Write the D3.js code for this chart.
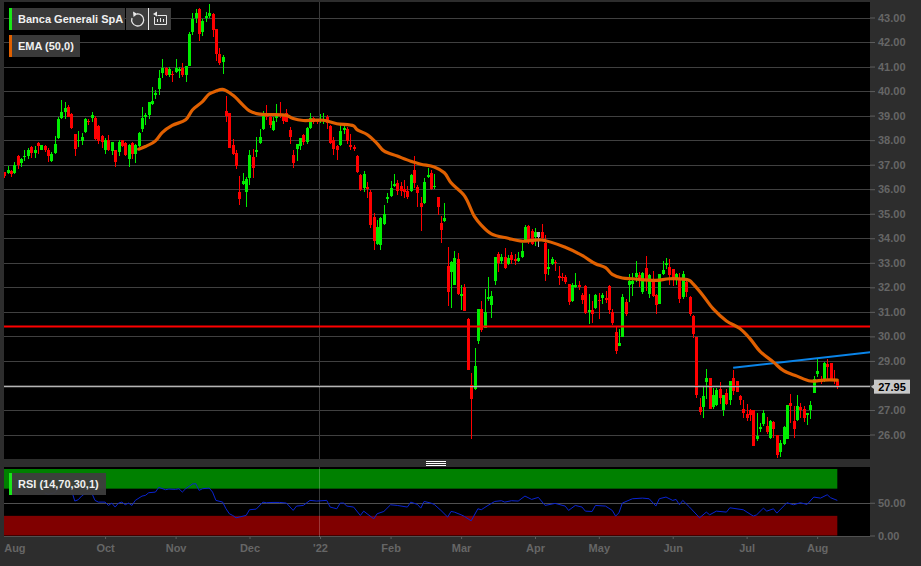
<!DOCTYPE html>
<html>
<head>
<meta charset="utf-8">
<script src="https://cdn.jsdelivr.net/npm/d3@7"></script>
<style>
  html, body { margin: 0; padding: 0; background: #2d2d2d; overflow: hidden; }
  svg { display: block; font-family: "Liberation Sans", Arial, sans-serif; }
</style>
</head>
<body>
<svg id="chart" width="921" height="566"></svg>
<script>
// Daily candles
const opens = [
  36.70,36.66,36.73,36.66,37.34,37.07,37.31,37.35,37.73,37.47,
  37.88,37.61,37.77,37.58,37.15,37.49,38.10,38.91,39.14,39.37,
  39.05,38.26,37.95,37.96,38.34,38.80,38.91,38.91,38.59,38.17,
  37.58,37.99,37.56,37.61,37.51,37.99,37.89,37.24,37.88,37.42,
  37.78,38.45,38.94,39.03,39.48,39.86,40.07,40.75,40.93,40.66,
  40.70,40.79,40.83,40.93,40.66,41.02,42.39,42.96,43.34,42.42,
  43.00,43.07,43.16,42.55,41.50,41.20,39.17,39.12,37.81,37.47,
  35.89,36.23,35.89,36.46,37.31,37.53,37.90,38.45,39.00,38.96,
  38.43,38.92,39.08,39.01,39.11,38.43,37.41,37.62,37.78,38.23,
  37.94,38.51,38.92,38.84,38.81,38.84,38.95,38.59,38.02,37.78,
  37.82,38.43,38.47,37.79,37.74,37.37,36.57,36.03,36.07,35.87,
  34.88,33.76,33.73,34.57,35.59,35.73,36.13,36.26,36.14,35.99,
  35.94,35.94,36.80,36.07,35.42,35.42,36.51,36.67,36.07,35.69,
  34.64,34.70,32.85,32.62,32.10,33.15,31.63,32.01,30.71,28.00,
  27.86,29.83,31.11,30.34,31.52,31.29,32.24,33.35,33.09,33.23,
  32.96,33.30,33.15,33.09,33.23,33.93,34.51,34.31,34.07,34.27,
  34.27,33.82,32.75,32.94,33.05,32.48,32.44,32.41,32.14,31.44,
  32.01,32.08,31.70,32.04,31.01,31.06,31.17,31.50,31.56,31.56,
  32.07,31.01,30.18,29.61,29.99,31.40,32.11,32.15,32.44,32.49,
  31.81,32.80,31.74,32.35,31.67,31.31,32.53,32.89,32.82,32.76,
  32.35,32.39,31.60,32.21,31.60,30.83,29.98,27.11,27.11,28.13,
  28.31,27.12,27.22,27.86,27.01,27.70,27.39,28.30,28.17,27.55,
  27.05,26.85,27.01,27.01,25.82,26.22,26.44,26.34,25.87,26.51,
  25.96,25.29,25.60,25.83,27.29,26.57,26.60,27.12,27.02,26.79,
  27.01,27.69,28.47,28.23,28.20,28.88,28.91,28.23,28.17
];
const closes = [
  36.52,36.80,36.63,37.00,36.97,37.24,37.34,37.58,37.47,37.58,
  37.78,37.81,37.58,37.35,37.45,37.85,38.87,39.14,39.32,38.96,
  38.50,37.62,38.00,38.12,38.87,38.72,39.03,38.06,37.95,37.92,
  38.02,37.58,37.91,37.11,37.92,37.78,37.41,37.81,37.42,37.81,
  38.29,38.89,39.03,39.57,39.60,39.94,40.52,40.93,40.66,40.90,
  40.64,40.93,40.89,40.66,41.02,42.31,42.93,43.20,42.31,42.85,
  43.05,43.20,42.49,41.50,41.13,41.37,38.98,37.70,37.43,36.93,
  35.60,36.35,36.43,37.40,36.86,37.58,38.12,39.03,38.96,38.62,
  38.78,38.97,38.97,38.78,38.76,38.11,37.05,37.86,38.07,37.93,
  38.51,38.92,38.72,38.74,38.85,38.88,38.70,37.89,37.62,37.59,
  38.38,38.51,37.96,37.73,37.64,36.71,35.96,36.62,36.01,34.54,
  33.89,34.47,34.84,34.98,35.67,36.06,36.20,35.94,35.92,35.90,
  35.67,36.56,36.24,35.86,35.26,36.30,36.57,35.99,36.13,35.26,
  34.34,34.81,31.80,33.05,33.19,31.74,31.74,31.03,28.62,27.43,
  28.78,31.11,30.27,30.98,31.60,31.63,33.23,33.01,33.23,32.78,
  33.19,33.12,33.08,33.19,33.50,34.45,33.86,33.76,34.27,34.04,
  34.00,32.54,32.82,33.15,32.98,32.37,32.40,32.21,31.40,32.11,
  32.08,32.01,31.50,30.97,31.06,30.90,31.70,31.44,31.67,31.50,
  31.06,30.55,29.40,29.73,31.60,30.90,32.25,32.25,32.58,32.35,
  32.59,32.28,32.51,31.63,31.27,32.55,32.69,33.00,32.49,32.35,
  32.53,31.54,32.53,31.81,30.90,30.11,27.63,26.90,27.57,28.30,
  27.05,27.62,27.82,27.50,27.59,27.25,28.17,27.79,27.73,27.41,
  26.89,26.67,26.79,25.53,25.92,26.30,26.87,26.10,26.53,26.24,
  25.15,25.65,26.30,27.20,27.16,26.24,27.16,27.01,26.67,26.87,
  27.21,28.27,28.58,28.13,28.91,28.77,28.23,28.17,27.96
];
const highs = [
  36.70,36.93,36.80,37.12,37.38,37.28,37.58,37.69,37.75,37.75,
  37.92,37.81,37.81,37.69,37.50,38.15,38.94,39.64,39.55,39.44,
  39.09,38.26,38.37,38.29,38.91,38.87,39.14,39.00,38.60,38.19,
  38.08,38.22,37.92,37.61,37.99,37.99,37.92,37.85,37.92,37.85,
  38.33,39.37,39.10,39.57,40.15,40.05,40.86,41.29,40.99,40.99,
  40.83,41.32,40.99,41.16,41.02,42.42,43.19,43.33,43.37,42.92,
  43.23,43.54,43.19,42.55,41.74,41.47,39.78,39.12,38.04,37.61,
  36.52,36.66,36.48,37.61,37.64,38.12,38.45,39.17,39.44,39.10,
  38.95,39.49,39.56,39.08,39.28,38.54,37.59,37.86,38.07,38.27,
  38.54,39.11,38.95,38.88,39.05,39.11,39.01,38.61,38.11,37.79,
  38.61,38.67,38.54,38.27,37.79,37.39,36.62,36.74,36.30,35.96,
  35.02,34.75,34.88,35.36,35.86,36.33,36.62,36.37,36.30,36.37,
  36.13,36.62,37.35,36.17,35.67,36.44,36.87,36.78,36.64,35.69,
  34.91,35.42,33.66,33.09,33.50,33.39,32.10,32.13,30.75,28.51,
  29.53,31.11,31.43,31.93,32.41,31.87,33.23,33.46,33.35,33.62,
  33.30,33.43,33.36,33.43,33.80,34.54,34.54,34.37,34.41,34.27,
  34.58,34.14,33.57,33.23,33.12,32.88,32.58,32.51,32.14,32.19,
  32.59,32.25,31.78,32.08,31.74,31.44,31.74,31.78,31.78,31.85,
  32.08,31.13,30.41,30.32,31.74,31.54,32.53,32.58,33.09,32.62,
  32.62,33.26,32.55,32.66,31.74,32.55,33.09,33.20,33.16,32.76,
  32.58,32.58,32.65,32.35,31.63,30.86,29.98,27.47,27.92,28.67,
  28.31,27.90,27.89,28.13,27.59,27.86,28.20,28.63,28.20,27.59,
  27.39,27.25,27.05,27.01,26.87,26.47,26.98,26.71,26.60,26.53,
  25.99,25.76,26.33,27.22,27.66,27.18,27.62,27.29,27.18,26.87,
  27.35,28.38,29.12,28.40,28.95,29.08,28.91,28.61,28.20
];
const lows = [
  36.47,36.61,36.50,36.63,36.84,36.90,37.15,37.22,37.27,37.27,
  37.45,37.58,37.50,37.11,37.11,37.45,38.06,38.87,38.87,38.94,
  38.46,37.35,37.72,37.81,38.29,38.60,38.73,37.99,37.85,37.69,
  37.45,37.54,37.38,36.90,37.34,37.72,37.35,36.90,37.24,37.07,
  37.72,38.35,38.62,38.85,39.44,39.67,39.84,40.52,40.62,40.59,
  40.38,40.75,40.52,40.59,40.38,41.02,42.28,42.76,42.05,42.25,
  42.82,43.00,42.19,41.22,41.06,40.68,38.72,37.70,37.40,36.83,
  35.34,36.16,35.28,36.16,36.46,37.31,37.85,38.42,38.83,38.49,
  38.38,38.74,38.92,38.67,38.74,37.86,36.87,37.16,37.59,37.79,
  37.86,38.47,38.67,38.67,38.70,38.67,38.47,37.83,37.39,37.18,
  37.77,38.27,37.86,37.59,37.56,36.67,35.94,35.90,35.65,34.41,
  33.53,33.73,33.53,34.54,35.42,35.69,36.07,35.76,35.72,35.63,
  35.59,35.90,36.03,35.26,34.31,35.40,36.44,35.96,35.99,34.95,
  33.82,34.68,31.22,31.15,32.08,31.70,31.06,31.03,28.62,25.80,
  27.83,29.70,30.17,30.34,31.43,30.75,32.08,32.64,32.94,32.75,
  32.89,32.96,32.89,33.02,33.19,33.91,33.77,33.73,33.69,33.66,
  33.89,32.27,32.51,32.89,32.67,32.08,32.24,32.13,31.28,31.40,
  31.98,31.88,31.33,30.93,30.52,30.55,31.13,30.72,31.33,31.36,
  30.93,30.47,29.30,29.60,29.98,30.83,31.40,31.64,32.21,32.01,
  31.74,31.85,31.56,31.60,30.90,31.31,32.49,32.76,32.08,32.04,
  32.08,31.36,31.54,31.60,30.83,29.94,27.50,26.79,26.66,27.46,
  27.05,27.05,27.18,27.25,26.75,27.22,27.22,27.59,27.73,27.22,
  26.68,26.55,26.57,25.53,25.72,26.10,26.33,26.01,25.83,25.87,
  25.06,25.08,25.56,25.80,26.47,25.87,26.57,26.68,26.51,26.37,
  26.64,27.69,28.36,28.04,28.13,28.23,28.17,28.04,27.86
];
// one candle is shown grey in the source
const greyCandles = [159];

// EMA (50,0), sampled by candle number
const emaDays = [40,42,45,47,50,54,56,59,61,63,65,68,71,73,76,79,84,86,89,92,95,99,104,105,108,111,113,117,121,124,128,131,133,137,140,142,145,150,154,160,167,172,176,179,181,184,187,194,198,204,205,208,211,215,219,222,225,229,232,236,240,244,248];
const emaValues = [37.63,37.74,37.97,38.31,38.60,38.83,39.23,39.57,39.88,40.00,40.07,39.84,39.44,39.19,39.06,39.04,39.01,38.88,38.80,38.81,38.81,38.67,38.58,38.43,38.23,37.86,37.56,37.35,37.14,37.02,36.91,36.67,36.26,35.73,34.88,34.54,34.18,34.00,33.88,33.93,33.63,33.30,32.96,32.80,32.53,32.38,32.35,32.28,32.35,32.28,32.15,31.67,31.13,30.63,30.32,29.91,29.39,28.95,28.60,28.38,28.18,28.22,28.22];

// RSI (14,70,30,1)
const rsiDays = [12,13,15,16,18,20,21,22,23,24,26,27,28,30,31,32,33,34,35,36,37,38,39,41,42,43,45,46,48,49,51,52,53,54,56,57,58,59,61,62,63,65,66,67,68,69,72,73,75,77,78,80,82,84,86,87,89,91,93,96,97,99,100,101,102,104,106,107,108,110,111,113,115,117,120,121,123,124,125,127,128,130,132,133,134,136,137,139,141,142,144,146,148,149,151,153,155,157,159,161,164,167,168,170,172,173,175,176,179,181,182,183,184,187,190,192,194,195,197,199,200,201,202,204,207,209,210,212,215,216,220,223,224,226,227,229,230,233,235,237,239,241,243,245,246,248];
const rsiValues = [65.3,62.8,65.3,71.4,75.5,68.9,52.6,54.6,60.2,63.8,65.3,53.6,51.0,51.0,45.9,49.5,43.4,49.5,51.0,46.9,49.5,45.9,53.6,60.2,61.2,65.3,66.3,73.5,69.9,70.9,70.4,71.4,66.3,71.4,78.6,79.1,68.9,71.4,72.4,66.3,53.6,51.0,40.8,33.2,30.6,27.0,30.6,39.3,40.3,51.0,50.0,50.5,50.5,49.5,38.3,44.9,45.9,53.6,52.6,53.6,43.4,40.8,49.5,49.5,44.9,43.4,30.6,37.2,33.2,25.5,33.2,36.7,46.9,45.9,43.4,51.0,47.4,41.8,52.0,49.5,47.4,38.3,28.1,36.7,35.7,31.6,29.1,22.4,40.8,39.3,45.9,52.0,53.1,51.0,53.1,52.6,60.2,55.1,58.2,45.9,49.0,44.9,38.3,45.9,43.4,37.2,36.7,45.9,44.9,38.3,29.6,34.7,49.5,56.1,57.1,56.1,44.9,56.1,58.7,53.6,55.1,46.9,53.6,43.4,27.0,35.7,31.6,37.2,35.7,42.3,39.3,29.6,31.6,41.8,37.2,40.8,34.2,50.0,46.9,50.0,47.4,58.7,57.1,62.2,57.7,53.6];

const priceTicks = [26,27,28,29,30,31,32,33,34,35,36,37,38,39,40,41,42,43];
const rsiTicks = [0,50];
const monthDays = [3,30,51,73,94,115,136,158,177,199,221,242];
const monthLabels = ["Aug","Oct","Nov","Dec","'22","Feb","Mar","Apr","May","Jun","Jul","Aug"];
const yearDay = 94;

const resistance = 30.40;
const lastPrice = 27.95;
const trendDays = [217,258];
const trendValues = [28.72,29.36];

const plot = { left: 4, right: 870, top: 2, bottom: 459 };
const rsiPanel = { top: 467, bottom: 537 };

const x = d3.scaleLinear().domain([0, opens.length - 1]).range([4.3, 837.3]);
const y = d3.scaleLinear().domain([26, 43]).range([434.5, 17.5]);
const rsiY = d3.scaleLinear().domain([0, 100]).range([535.5, 470]);

const svg = d3.select("#chart");

svg.append("defs").append("clipPath").attr("id", "plot-clip")
  .append("rect")
  .attr("x", plot.left).attr("y", plot.top)
  .attr("width", plot.right - plot.left).attr("height", plot.bottom - plot.top);

// panels
svg.append("rect")
  .attr("x", plot.left).attr("y", plot.top)
  .attr("width", plot.right - plot.left).attr("height", plot.bottom - plot.top)
  .attr("fill", "#000");
svg.append("rect")
  .attr("x", plot.left).attr("y", rsiPanel.top)
  .attr("width", plot.right - plot.left).attr("height", rsiPanel.bottom - rsiPanel.top)
  .attr("fill", "#000");

// grid
svg.append("g").selectAll("line")
  .data(priceTicks).enter().append("line")
  .attr("x1", plot.left).attr("x2", plot.right)
  .attr("y1", d => Math.round(y(d)) + 0.5)
  .attr("y2", d => Math.round(y(d)) + 0.5)
  .attr("stroke", "#404040");

// year divider
svg.append("line")
  .attr("x1", Math.round(x(yearDay)) - 0.5).attr("x2", Math.round(x(yearDay)) - 0.5)
  .attr("y1", plot.top).attr("y2", plot.bottom)
  .attr("stroke", "#3a3a3a");

// candles
const candleData = opens.map((o, i) => ({
  i, o, c: closes[i], h: highs[i], l: lows[i]
}));
const candleColor = d => greyCandles.includes(d.i) ? "#b4b4b4" : (d.c >= d.o ? "#00ee00" : "#ff0000");

const candles = svg.append("g")
  .attr("clip-path", "url(#plot-clip)")
  .attr("shape-rendering", "crispEdges");

candles.selectAll(".wick").data(candleData).enter().append("rect")
  .attr("class", "wick")
  .attr("x", d => Math.round(x(d.i)))
  .attr("y", d => y(d.h))
  .attr("width", 1)
  .attr("height", d => y(d.l) - y(d.h))
  .attr("fill", candleColor);

candles.selectAll(".body").data(candleData).enter().append("rect")
  .attr("class", "body")
  .attr("x", d => Math.round(x(d.i)) - 1)
  .attr("y", d => y(Math.max(d.o, d.c)))
  .attr("width", 3)
  .attr("height", d => Math.max(1, Math.abs(y(d.o) - y(d.c))))
  .attr("fill", candleColor);

// level lines
const overlays = svg.append("g").attr("clip-path", "url(#plot-clip)");

overlays.append("line")
  .attr("x1", plot.left).attr("x2", plot.right)
  .attr("y1", y(lastPrice)).attr("y2", y(lastPrice))
  .attr("stroke", "#b4b4b4").attr("stroke-width", 1.3);

overlays.append("line")
  .attr("x1", plot.left).attr("x2", plot.right)
  .attr("y1", y(resistance)).attr("y2", y(resistance))
  .attr("stroke", "#ff0000").attr("stroke-width", 2);

overlays.append("line")
  .attr("x1", x(trendDays[0])).attr("x2", x(trendDays[1]))
  .attr("y1", y(trendValues[0])).attr("y2", y(trendValues[1]))
  .attr("stroke", "#0a84e8").attr("stroke-width", 2);

// EMA
const emaLine = d3.line()
  .x((d, i) => x(emaDays[i]))
  .y(d => y(d))
  .curve(d3.curveCatmullRom.alpha(0.5));

overlays.append("path")
  .attr("d", emaLine(emaValues))
  .attr("fill", "none")
  .attr("stroke", "#e06000")
  .attr("stroke-width", 3.2)
  .attr("stroke-linejoin", "round")
  .attr("stroke-linecap", "round");

// price axis
const priceAxis = svg.append("g")
  .attr("transform", `translate(${plot.right},0)`)
  .call(d3.axisRight(y).tickValues(priceTicks).tickFormat(d3.format(".2f")).tickSize(5).tickPadding(3));
priceAxis.select(".domain").remove();
priceAxis.selectAll("line").attr("stroke", "#5f5f5f");
priceAxis.selectAll("text").attr("fill", "#666").style("font-size", "11px").style("font-weight", "bold").style("font-family", "'Liberation Sans', Arial, sans-serif");

// last price tag
const tag = svg.append("g");
tag.append("path")
  .attr("d", d3.line()([[871, y(lastPrice)], [875, y(lastPrice) - 3], [875, y(lastPrice) + 3]]))
  .attr("fill", "#c8c8c8");
tag.append("rect")
  .attr("x", 874).attr("y", y(lastPrice) - 7)
  .attr("width", 36).attr("height", 14)
  .attr("fill", "#c8c8c8");
tag.append("text")
  .attr("x", 892).attr("y", y(lastPrice) + 4)
  .attr("text-anchor", "middle")
  .attr("font-size", 11).attr("font-weight", "bold")
  .attr("fill", "#000")
  .text(d3.format(".2f")(lastPrice));

// divider handle
svg.append("g").selectAll("line")
  .data([461.5, 463.5, 465.5]).enter().append("line")
  .attr("x1", 426).attr("x2", 446)
  .attr("y1", d => d).attr("y2", d => d)
  .attr("stroke", "#fff");

// RSI panel bands
svg.append("rect")
  .attr("x", plot.left).attr("y", rsiY(100) - 1)
  .attr("width", x(opens.length - 1) - plot.left).attr("height", rsiY(70) - rsiY(100))
  .attr("fill", "#008000");
svg.append("rect")
  .attr("x", plot.left).attr("y", rsiY(30))
  .attr("width", x(opens.length - 1) - plot.left).attr("height", rsiY(0) - rsiY(30))
  .attr("fill", "#800000");

svg.append("g").selectAll("line")
  .data(rsiTicks).enter().append("line")
  .attr("x1", plot.left).attr("x2", plot.right)
  .attr("y1", d => Math.round(rsiY(d)) + 0.5)
  .attr("y2", d => Math.round(rsiY(d)) + 0.5)
  .attr("stroke", "#505050");

svg.append("line")
  .attr("x1", Math.round(x(yearDay)) - 0.5).attr("x2", Math.round(x(yearDay)) - 0.5)
  .attr("y1", rsiPanel.top).attr("y2", rsiPanel.bottom)
  .attr("stroke", "rgba(255,255,255,0.22)");

const rsiLine = d3.line()
  .x((d, i) => x(rsiDays[i]))
  .y(d => rsiY(d));

svg.append("path")
  .attr("d", rsiLine(rsiValues))
  .attr("fill", "none")
  .attr("stroke", "#0a24d2")
  .attr("stroke-width", 1);

const rsiAxis = svg.append("g")
  .attr("transform", `translate(${plot.right},0)`)
  .call(d3.axisRight(rsiY).tickValues(rsiTicks).tickFormat(d3.format(".2f")).tickSize(5).tickPadding(3));
rsiAxis.select(".domain").remove();
rsiAxis.selectAll("line").attr("stroke", "#5f5f5f");
rsiAxis.selectAll("text").attr("fill", "#666").style("font-size", "11px").style("font-weight", "bold").style("font-family", "'Liberation Sans', Arial, sans-serif");

// time axis
const timeAxis = svg.append("g")
  .attr("transform", `translate(0,${rsiPanel.bottom})`)
  .call(d3.axisBottom(x)
    .tickValues(monthDays)
    .tickFormat((d, i) => monthLabels[i])
    .tickSize(2).tickPadding(5));
timeAxis.select(".domain").remove();
timeAxis.selectAll("line").attr("stroke", "#5f5f5f");
timeAxis.selectAll("text").attr("fill", "#666").style("font-size", "11px").style("font-weight", "bold").style("font-family", "'Liberation Sans', Arial, sans-serif");
timeAxis.select(".tick line").remove();

// legend boxes
function legendBox(top, width, color, label) {
  const g = svg.append("g");
  g.append("rect")
    .attr("x", 9).attr("y", top).attr("width", width).attr("height", 22)
    .attr("fill", "#3d3d3d").attr("fill-opacity", 0.95);
  g.append("rect")
    .attr("x", 9).attr("y", top).attr("width", 3).attr("height", 22)
    .attr("fill", color);
  g.append("text")
    .attr("x", 18).attr("y", top + 15)
    .attr("font-size", 11).attr("font-weight", "bold")
    .attr("fill", "#f0f0f0")
    .text(label);
}
legendBox(8, 116, "#19e619", "Banca Generali SpA");
legendBox(35, 71, "#e06000", "EMA (50,0)");
legendBox(473, 97, "#19e619", "RSI (14,70,30,1)");

// refresh and reset buttons
svg.append("rect").attr("x", 126).attr("y", 8).attr("width", 22).attr("height", 22).attr("fill", "#3d3d3d");
svg.append("rect").attr("x", 149).attr("y", 8).attr("width", 22).attr("height", 22).attr("fill", "#3d3d3d");
svg.append("rect").attr("x", 148).attr("y", 8).attr("width", 1).attr("height", 22).attr("fill", "#eee");

svg.append("path")
  .attr("d", "M137 14 A6 6 0 1 1 132 18")
  .attr("fill", "none").attr("stroke", "#e8e8e8").attr("stroke-width", 1.3);
svg.append("path")
  .attr("d", "M133 11.5 L137.5 14 L133.5 17 Z")
  .attr("fill", "#e8e8e8");

const resetIcon = svg.append("g").attr("stroke", "#e8e8e8").attr("fill", "none");
resetIcon.append("path").attr("d", "M157.5 15.5 H166.5 V24.5 H154.5 V17");
resetIcon.append("path").attr("d", "M157.5 22 V19 M160.5 22 V18 M163.5 22 V19");
svg.append("path").attr("d", "M153 14 L157 11.5 V16.5 Z").attr("fill", "#e8e8e8");
</script>
</body>
</html>
